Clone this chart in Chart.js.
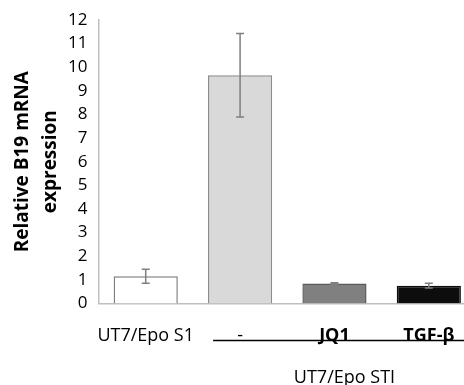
<!DOCTYPE html>
<html lang="en">
<head>
<meta charset="UTF-8">
<title>B19 mRNA expression</title>
<script src="https://cdn.jsdelivr.net/npm/chart.js"></script>
<style>
  html, body { margin: 0; padding: 0; background: #fff; overflow: hidden; }
  #wrap { width: 476px; height: 385px; }
</style>
</head>
<body>
<div id="wrap"><canvas id="chart" width="476" height="385"></canvas></div>
<script>
const labels = ['UT7/Epo S1', '-', 'JQ1', 'TGF-\u03b2'];
const values = [1.15, 9.66, 0.84, 0.75];
const errors = [0.3, 1.77, 0.03, 0.1];
const barColors = ['#ffffff', '#d9d9d9', '#808080', '#0d0d0d'];
const groupLabel = 'UT7/Epo STI';

const FONT = "'Open Sans', 'Liberation Sans', sans-serif";

const errorBars = {
  id: 'errorBars',
  afterDatasetsDraw(chart) {
    const ctx = chart.ctx;
    const y = chart.scales.y;
    const meta = chart.getDatasetMeta(0);
    ctx.save();
    ctx.strokeStyle = '#7f7f7f';
    ctx.lineWidth = 1.5;
    meta.data.forEach((bar, i) => {
      const top = y.getPixelForValue(values[i] + errors[i]);
      const bot = y.getPixelForValue(values[i] - errors[i]);
      ctx.beginPath();
      ctx.moveTo(bar.x, top); ctx.lineTo(bar.x, bot);
      ctx.moveTo(bar.x - 4, top); ctx.lineTo(bar.x + 4, top);
      ctx.moveTo(bar.x - 4, bot); ctx.lineTo(bar.x + 4, bot);
      ctx.stroke();
    });
    ctx.restore();
  }
};

const groupMark = {
  id: 'groupMark',
  afterDraw(chart) {
    const ctx = chart.ctx;
    const x = chart.scales.x;
    const bottom = chart.chartArea.bottom;
    const left = x.getPixelForValue(1) - 27;
    const right = x.getPixelForValue(3) + 37;
    ctx.save();
    ctx.strokeStyle = '#000';
    ctx.lineWidth = 1.5;
    ctx.beginPath();
    ctx.moveTo(left, bottom + 37);
    ctx.lineTo(right, bottom + 37);
    ctx.stroke();
    ctx.fillStyle = '#000';
    ctx.font = '18px ' + FONT;
    ctx.textAlign = 'center';
    ctx.textBaseline = 'alphabetic';
    ctx.fillText(groupLabel, x.getPixelForValue(2) + 10, bottom + 80);
    ctx.restore();
  }
};

new Chart(document.getElementById('chart'), {
  type: 'bar',
  data: {
    labels: labels,
    datasets: [{
      data: values,
      backgroundColor: barColors,
      borderColor: ['#7f7f7f', '#8c8c8c', '#5a5a5a', '#0d0d0d'],
      borderWidth: 1.5,
      barPercentage: 0.68,
      categoryPercentage: 1
    }]
  },
  options: {
    responsive: false,
    animation: false,
    events: [],
    layout: { padding: { top: 20, right: 0, left: 0, bottom: 24 } },
    plugins: { legend: { display: false }, tooltip: { enabled: false } },
    scales: {
      x: {
        grid: { display: false },
        border: { color: '#bfbfbf', width: 1.5 },
        ticks: {
          color: '#000',
          padding: 14,
          maxRotation: 0,
          autoSkip: false,
          font: c => ({ family: FONT, size: 18, weight: c.index >= 2 ? 'bold' : 'normal' })
        }
      },
      y: {
        min: 0,
        max: 12,
        grid: { display: false, drawOnChartArea: false, drawTicks: true, tickLength: 7, color: '#bfbfbf' },
        border: { color: '#bfbfbf', width: 1.5 },
        ticks: {
          stepSize: 1,
          autoSkip: false,
          color: '#000',
          padding: 4,
          font: { family: FONT, size: 17 }
        },
        title: {
          display: true,
          text: ['Relative B19 mRNA', 'expression'],
          color: '#000',
          font: { family: FONT, size: 19, weight: 'bold', lineHeight: 1.45 },
          padding: { top: 9, bottom: 0 }
        }
      }
    }
  },
  plugins: [errorBars, groupMark]
});
</script>
</body>
</html>
